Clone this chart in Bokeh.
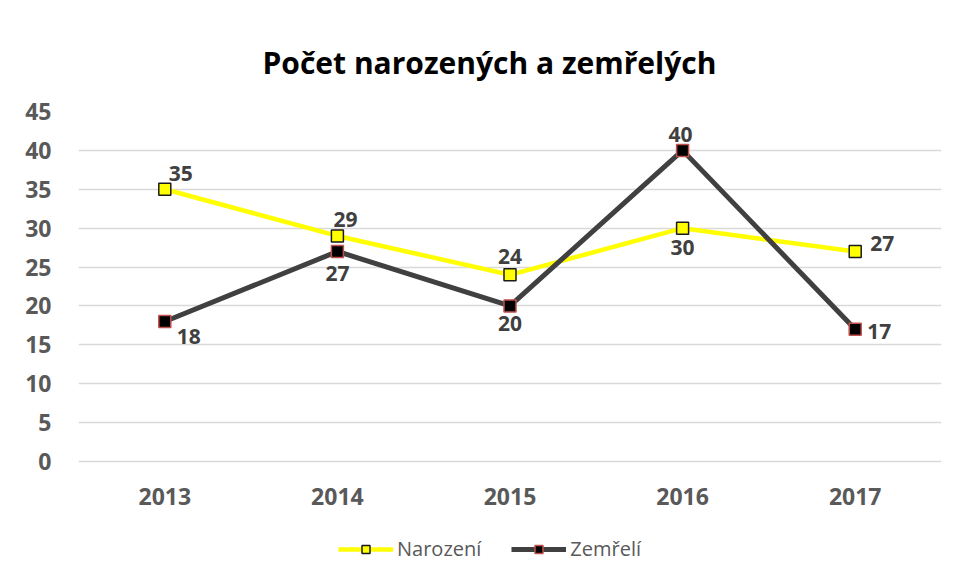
from bokeh.plotting import figure
from bokeh.models import ColumnDataSource, LabelSet, FixedTicker, Legend, LegendItem
from bokeh.core.properties import value
from bokeh.embed import file_html
from bokeh.resources import INLINE

# ---- data ----
years = ["2013", "2014", "2015", "2016", "2017"]
narozeni = [35, 29, 24, 30, 27]
zemreli = [18, 27, 20, 40, 17]
y_ticks = [0, 5, 10, 15, 20, 25, 30, 35, 40, 45]
title_text = "Počet narozených a zemřelých"
series_names = ["Narození", "Zemřelí"]

# label offsets (layout only)
nar_dx = [16, 8, 0, 0, 27]
nar_dy = [16, 16, 18, -19, 8]
zem_dx = [24, 0, 0, -2, 24]
zem_dy = [-15, -22, -18, 16, -2]

FONT = "Open Sans"

# layout: value axis 0..45 spans 350 px; frame continues 114 px below 0 for labels/legend
Y_MAX = y_ticks[-1]
AXIS_PX = 350
BELOW_PX = 114
y_start = -BELOW_PX * Y_MAX / AXIS_PX

p = figure(
    x_range=years, y_range=(y_start, Y_MAX),
    width=950, height=575,
    output_backend="svg", toolbar_location=None,
    min_border_left=78, min_border_right=9,
    min_border_top=111, min_border_bottom=0,
    background_fill_color="white", border_fill_color="white",
)
p.outline_line_color = None

p.title.text = title_text
p.title.align = "left"
p.title.text_font = FONT
p.title.text_font_size = "30px"
p.title.text_font_style = "bold"
p.title.text_color = "#000000"
p.title.standoff = 58
p.title.offset = 184

p.xgrid.grid_line_color = None
p.ygrid.grid_line_color = "#d9d9d9"
p.ygrid.grid_line_width = 1.3
p.yaxis.ticker = FixedTicker(ticks=y_ticks)
p.xaxis.visible = False

p.yaxis.axis_line_color = None
p.yaxis.major_tick_line_color = None
p.yaxis.minor_tick_line_color = None
p.yaxis.major_label_text_font = FONT
p.yaxis.major_label_text_font_size = "23px"
p.yaxis.major_label_text_font_style = "bold"
p.yaxis.major_label_text_color = "#595959"
p.yaxis.major_label_standoff = 21

# category labels under the value axis
src_x = ColumnDataSource(dict(x=years, y=[0] * len(years)))
p.add_layout(LabelSet(x="x", y="y", text="x", source=src_x, y_offset=-35,
                      text_align="center", text_baseline="middle",
                      text_font=value(FONT), text_font_size="23px",
                      text_font_style="bold", text_color="#595959"))

src_n = ColumnDataSource(dict(x=years, y=narozeni, t=[str(v) for v in narozeni], dx=nar_dx, dy=nar_dy))
src_z = ColumnDataSource(dict(x=years, y=zemreli, t=[str(v) for v in zemreli], dx=zem_dx, dy=zem_dy))

ln = p.line("x", "y", source=src_n, line_color="#FFFF00", line_width=4.5)
mn = p.scatter("x", "y", source=src_n, marker="square", size=12,
               fill_color="#FFFF00", line_color="#1a1a1a", line_width=1.5)
lz = p.line("x", "y", source=src_z, line_color="#404040", line_width=5)
mz = p.scatter("x", "y", source=src_z, marker="square", size=12,
               fill_color="#000000", line_color="#c0504d", line_width=1.5)

for src in (src_n, src_z):
    p.add_layout(LabelSet(x="x", y="y", text="t", source=src,
                          x_offset="dx", y_offset="dy",
                          text_align="center", text_baseline="middle",
                          text_font=value(FONT), text_font_size="21px",
                          text_font_style="bold", text_color="#404040"))

legend = Legend(items=[LegendItem(label=series_names[0], renderers=[ln, mn]),
                       LegendItem(label=series_names[1], renderers=[lz, mz])],
                orientation="horizontal", location=(260, 13),
                border_line_color=None, background_fill_alpha=0,
                label_text_font=FONT, label_text_font_size="20px",
                label_text_color="#595959", glyph_width=55, glyph_height=20,
                spacing=30, margin=0, padding=0, label_standoff=4)
p.add_layout(legend, "center")

open("out.html", "w").write(file_html(p, INLINE))
